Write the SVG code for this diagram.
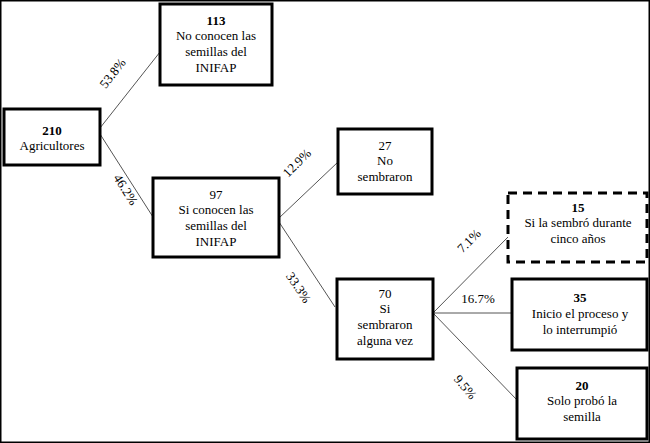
<svg xmlns="http://www.w3.org/2000/svg" width="650" height="443" viewBox="0 0 650 443" font-family="Liberation Serif, DejaVu Serif, serif" font-size="13">
<style>
rect{fill:#fff;stroke:#000;stroke-width:3}
.d{stroke-dasharray:9,6}
text{text-anchor:middle;fill:#000}
.b{font-weight:bold}
line{stroke:#555;stroke-width:1}
</style>
<rect width="650" height="443" fill="#fff" stroke="none"/>
<g id="connectors">
<line x1="100" y1="128" x2="160" y2="52"/>
<line x1="100" y1="134" x2="153" y2="217"/>
<line x1="279" y1="218" x2="338" y2="162"/>
<line x1="279" y1="222" x2="335" y2="307"/>
<line x1="433" y1="313" x2="508" y2="237"/>
<line x1="433" y1="313" x2="512" y2="313"/>
<line x1="433" y1="313" x2="517" y2="400"/>
<text transform="translate(116,76) rotate(-52)">53.8%</text>
<text transform="translate(122,192) rotate(58)">46.2%</text>
<text transform="translate(300,166) rotate(-45)">12.9%</text>
<text transform="translate(295,290) rotate(56)">33.3%</text>
<text transform="translate(472,244) rotate(-45)">7.1%</text>
<text x="478" y="303">16.7%</text>
<text transform="translate(462,390) rotate(50)">9.5%</text>
</g>
<g id="n210"><rect x="4" y="109" width="96" height="56"/><text class="b" x="52" y="135">210</text><text x="52" y="150">Agricultores</text></g>
<g id="n113"><rect x="160" y="4" width="112" height="81"/><text class="b" x="216" y="25">113</text><text x="216" y="40">No conocen las</text><text x="216" y="56">semillas del</text><text x="216" y="72">INIFAP</text></g>
<g id="n97"><rect x="153" y="178" width="126" height="79"/><text x="216" y="199">97</text><text x="216" y="214">Si conocen las</text><text x="216" y="230">semillas del</text><text x="216" y="246">INIFAP</text></g>
<g id="n27"><rect x="338" y="129" width="94" height="65"/><text x="385" y="150">27</text><text x="385" y="165">No</text><text x="385" y="181">sembraron</text></g>
<g id="n70"><rect x="337" y="279" width="96" height="80"/><text x="385" y="298">70</text><text x="385" y="313">Si</text><text x="385" y="329">sembraron</text><text x="385" y="345">alguna vez</text></g>
<g id="n15"><rect class="d" x="508" y="193" width="139" height="69"/><text class="b" x="578" y="212">15</text><text x="578" y="227">Si la sembró durante</text><text x="578" y="243">cinco años</text></g>
<g id="n35"><rect x="512" y="279" width="135" height="71"/><text class="b" x="580" y="302">35</text><text x="580" y="318">Inicio el proceso y</text><text x="580" y="334">lo interrumpió</text></g>
<g id="n20"><rect x="517" y="368" width="130" height="71"/><text class="b" x="582" y="390">20</text><text x="582" y="405">Solo probó la</text><text x="582" y="421">semilla</text></g>
</svg>
